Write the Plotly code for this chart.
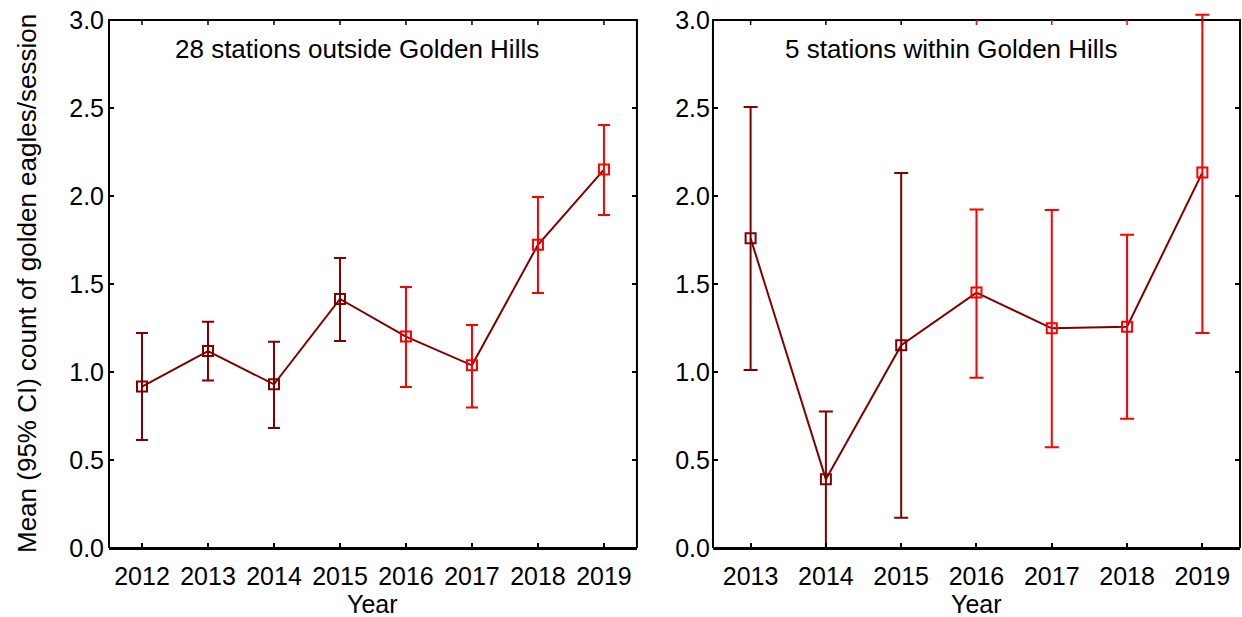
import plotly.graph_objects as go

# Mean count of golden eagles per session with 95% confidence limits
years_out = [2012, 2013, 2014, 2015, 2016, 2017, 2018, 2019]
mean_out = [0.917, 1.119, 0.930, 1.415, 1.201, 1.038, 1.723, 2.150]
upper_out = [1.222, 1.286, 1.172, 1.648, 1.483, 1.267, 1.994, 2.403]
lower_out = [0.614, 0.951, 0.682, 1.176, 0.915, 0.799, 1.449, 1.892]

years_in = [2013, 2014, 2015, 2016, 2017, 2018, 2019]
mean_in = [1.760, 0.390, 1.152, 1.451, 1.248, 1.257, 2.133]
upper_in = [2.505, 0.775, 2.130, 1.924, 1.920, 1.780, 3.030]
lower_in = [1.011, 0.000, 0.172, 0.968, 0.572, 0.735, 1.222]

title_out = "28 stations outside Golden Hills"
title_in = "5 stations within Golden Hills"
y_title = "Mean (95% CI) count of golden eagles/session"
x_title = "Year"

SPLIT_YEAR = 2016          # years from here on are drawn in bright red
DARK = "#800000"
BRIGHT = "#ff0000"
FONT = "Liberation Sans, Arial, sans-serif"

# Geometry: the frame spans 0..3 on y, the plotting area is a little taller
# so that confidence bars reaching past 3 are not cut at the frame.
FIG_W, FIG_H = 1242, 617
M_L, M_R, M_T, M_B = 109, 2, 0, 69
PLOT_H = FIG_H - M_T - M_B            # 548 px
FRAME_H = 528                          # px between y=0 and y=3
Y_MAX = 3.0
Y_MAX_EXT = Y_MAX * PLOT_H / FRAME_H
TICK_PX = 5
TICK_Y = TICK_PX * Y_MAX / FRAME_H     # tick length in data units

fig = go.Figure()


def add_panel(years, mean, upper, lower, xa, ya, cap, top_tick_colors):
    fig.add_trace(go.Scatter(
        x=years, y=mean, mode="lines", xaxis=xa, yaxis=ya,
        line=dict(color=DARK, width=2), showlegend=False, hoverinfo="skip"))
    for early, color in ((True, DARK), (False, BRIGHT)):
        idx = [i for i, yr in enumerate(years) if (yr < SPLIT_YEAR) == early]
        fig.add_trace(go.Scatter(
            x=[years[i] for i in idx], y=[mean[i] for i in idx],
            mode="markers", xaxis=xa, yaxis=ya, cliponaxis=False,
            marker=dict(symbol="square-open", size=10, color=color,
                        line=dict(color=color, width=2)),
            error_y=dict(type="data", symmetric=False,
                         array=[upper[i] - mean[i] for i in idx],
                         arrayminus=[mean[i] - lower[i] for i in idx],
                         color=color, thickness=2, width=cap),
            showlegend=False))
    # frame box from 0 to 3
    fig.add_shape(type="rect", xref=f"{xa} domain", yref=ya,
                  x0=0, x1=1, y0=0, y1=Y_MAX,
                  line=dict(color="black", width=2), fillcolor="rgba(0,0,0,0)")
    # tick marks along the top edge of the frame
    for yr in years:
        fig.add_shape(type="line", xref=xa, yref=ya,
                      x0=yr, x1=yr, y0=Y_MAX, y1=Y_MAX - TICK_Y,
                      line=dict(color=top_tick_colors(yr), width=1.5))
    # x-axis title below the tick labels
    fig.add_annotation(text=x_title, xref=f"{xa} domain", yref="paper",
                       x=0.5, y=-(604 - PLOT_H) / PLOT_H,
                       xanchor="center", yanchor="middle", showarrow=False,
                       font=dict(family=FONT, size=25))


add_panel(years_out, mean_out, upper_out, lower_out, "x", "y", 6,
          lambda yr: "black")
add_panel(years_in, mean_in, upper_in, lower_in, "x2", "y2", 7,
          lambda yr: BRIGHT if yr >= SPLIT_YEAR else "black")

x_common = dict(
    showline=True, linecolor="black", linewidth=2, mirror=False,
    ticks="inside", ticklen=TICK_PX, tickwidth=1.5, tickcolor="black",
    showgrid=False, zeroline=False, dtick=1, ticklabelstandoff=5,
    tickfont=dict(family=FONT, size=25, color="black"),
)
y_common = dict(
    showline=False, mirror="ticks", domain=[0, 1],
    range=[0, Y_MAX_EXT], tick0=0, dtick=0.5, tickformat=".1f",
    ticks="inside", ticklen=TICK_PX, tickwidth=1.5, tickcolor="black",
    showgrid=False, zeroline=False,
    tickfont=dict(family=FONT, size=25, color="black"),
)

fig.update_layout(
    width=FIG_W, height=FIG_H,
    margin=dict(l=M_L, r=M_R, t=M_T, b=M_B),
    paper_bgcolor="white", plot_bgcolor="white",
    font=dict(family=FONT, size=26, color="black"),
    xaxis=dict(domain=[0, 0.4668], range=[2011.5, 2019.5], tick0=2012,
               anchor="y", **x_common),
    yaxis=dict(anchor="x", ticklabelstandoff=4, **y_common),
    xaxis2=dict(domain=[0.534, 1], range=[2012.5, 2019.5], tick0=2013,
                anchor="y2", **x_common),
    yaxis2=dict(anchor="x2", ticklabelstandoff=2, **y_common),
)
fig.add_annotation(text=title_out, xref="x domain", yref="y domain", x=0.121,
                   y=1 - 49 / PLOT_H, xanchor="left", yanchor="middle",
                   showarrow=False, font=dict(family=FONT, size=26))
fig.add_annotation(text=title_in, xref="x2 domain", yref="y2 domain", x=0.133,
                   y=1 - 49 / PLOT_H, xanchor="left", yanchor="middle",
                   showarrow=False, font=dict(family=FONT, size=26))
fig.add_annotation(text=y_title, xref="paper", yref="paper", x=-0.0725,
                   y=(Y_MAX / 2) / Y_MAX_EXT, xanchor="center",
                   yanchor="middle", textangle=-90, showarrow=False,
                   font=dict(family=FONT, size=26))

fig.write_html("out.html")
